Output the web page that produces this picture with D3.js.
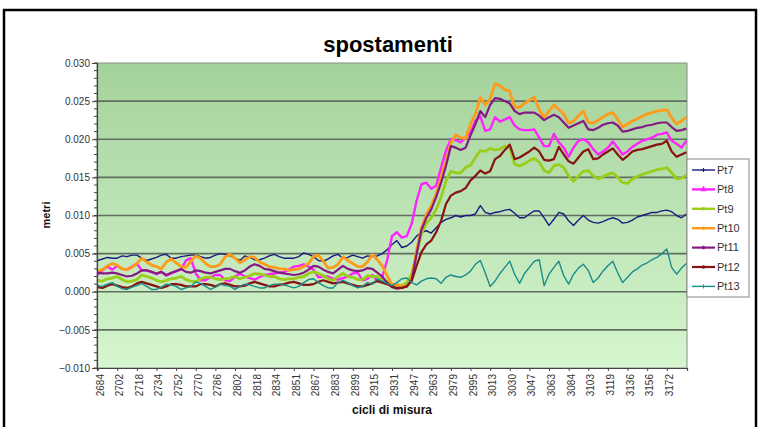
<!DOCTYPE html>
<html><head><meta charset="utf-8">
<script src="https://cdnjs.cloudflare.com/ajax/libs/d3/7.8.5/d3.min.js"></script>
<style>body{margin:0;background:#fff;} svg{display:block;font-family:"Liberation Sans",Arial,sans-serif;}</style>
</head><body>
<svg id="c" width="761" height="427"></svg>
<script>
// ---- data ----
const xLabels = ["2684","2702","2718","2734","2752","2770","2786","2802","2818","2834","2851","2867","2883","2899","2915","2931","2947","2963","2979","2995","3013","3030","3047","3063","3084","3103","3119","3136","3156","3172"];
const labelStep = 16;      // categories between labels
const nCategories = 481;   // measurement cycles on the axis
const sampleStep = 4;      // one value read every 4 cycles
const yTicks = [-0.010,-0.005,0.000,0.005,0.010,0.015,0.020,0.025,0.030];
const seriesNames = ["Pt7","Pt8","Pt9","Pt10","Pt11","Pt12","Pt13"];

const pt7 = [0.0041,0.0043,0.0045,0.0044,0.0044,0.0047,0.0046,0.0048,0.0048,0.0044,
0.0041,0.0043,0.0045,0.0048,0.0049,0.0044,0.0044,0.0046,0.0047,0.0048,
0.0048,0.0046,0.0044,0.0045,0.0048,0.0050,0.0049,0.0047,0.0044,0.0041,
0.0047,0.0045,0.0042,0.0042,0.0044,0.0047,0.0049,0.0046,0.0044,0.0044,
0.0044,0.0046,0.0051,0.0049,0.0046,0.0041,0.0040,0.0043,0.0047,0.0049,
0.0044,0.0045,0.0048,0.0046,0.0044,0.0047,0.0046,
0.0047,0.0050,0.0055,0.0062,0.0067,0.0058,0.0060,0.0065,0.0073,0.0078,0.0080,0.0077,0.0084,0.0091,0.0095,0.0097,0.0100,0.0098,0.0100,0.0100,0.0102,0.0113,
0.0104,0.0102,0.0104,0.0105,0.0107,0.0108,0.0103,0.0097,0.0097,0.0102,0.0106,0.0106,0.0097,0.0087,0.0095,0.0104,0.0102,0.0093,0.0087,0.0094,0.0100,
0.0094,0.0091,0.0090,0.0092,0.0095,0.0097,0.0095,0.0090,0.0091,0.0094,0.0098,0.0100,0.0102,0.0104,0.0104,0.0106,0.0107,0.0105,0.0100,0.0097,0.0102];

const pt8 = [0.0022,0.0028,0.0033,0.0029,0.0034,0.0030,0.0029,0.0033,0.0037,0.0028,
0.0028,0.0026,0.0023,0.0026,0.0021,0.0024,0.0027,0.0029,0.0041,0.0044,
0.0024,0.0015,0.0015,0.0019,0.0022,0.0022,0.0015,0.0014,0.0020,0.0024,
0.0020,0.0018,0.0016,0.0019,0.0022,0.0023,0.0024,0.0025,0.0026,0.0029,
0.0033,0.0034,0.0036,0.0033,0.0029,0.0019,0.0020,0.0020,0.0017,0.0016,
0.0018,0.0020,0.0024,0.0025,0.0015,0.0017,0.0022,
0.0014,0.0019,0.0041,0.0073,0.0078,0.0071,0.0073,0.0089,0.0119,0.0141,0.0143,0.0135,0.0139,0.0163,0.0185,0.0200,0.0199,0.0196,0.0202,0.0209,0.0224,0.0230,
0.0211,0.0213,0.0229,0.0223,0.0226,0.0229,0.0218,0.0213,0.0212,0.0212,0.0213,0.0202,0.0191,0.0191,0.0207,0.0196,0.0189,0.0177,0.0189,0.0198,0.0200,
0.0196,0.0187,0.0180,0.0184,0.0189,0.0197,0.0189,0.0180,0.0184,0.0190,0.0194,0.0198,0.0200,0.0202,0.0206,0.0207,0.0209,0.0198,0.0194,0.0189,0.0198];

const pt9 = [0.0015,0.0014,0.0017,0.0018,0.0020,0.0016,0.0013,0.0014,0.0016,0.0022,
0.0020,0.0018,0.0015,0.0013,0.0015,0.0017,0.0018,0.0020,0.0016,0.0014,
0.0013,0.0017,0.0019,0.0019,0.0017,0.0016,0.0017,0.0018,0.0020,0.0017,
0.0019,0.0021,0.0024,0.0023,0.0022,0.0020,0.0020,0.0017,0.0016,0.0017,
0.0017,0.0019,0.0020,0.0024,0.0026,0.0024,0.0021,0.0017,0.0015,0.0020,
0.0024,0.0020,0.0019,0.0016,0.0016,0.0021,0.0020,
0.0020,0.0015,0.0014,0.0010,0.0009,0.0008,0.0012,0.0023,0.0049,0.0076,0.0090,0.0097,0.0108,0.0124,0.0145,0.0158,0.0156,0.0156,0.0163,0.0166,0.0176,0.0185,
0.0184,0.0188,0.0186,0.0187,0.0191,0.0189,0.0167,0.0165,0.0168,0.0172,0.0175,0.0170,0.0159,0.0156,0.0165,0.0167,0.0163,0.0152,0.0145,0.0152,0.0158,
0.0159,0.0152,0.0148,0.0151,0.0154,0.0156,0.0150,0.0143,0.0142,0.0148,0.0151,0.0154,0.0156,0.0158,0.0160,0.0161,0.0163,0.0156,0.0148,0.0149,0.0153];

const pt10 = [0.0027,0.0029,0.0034,0.0037,0.0035,0.0030,0.0029,0.0032,0.0037,0.0044,
0.0039,0.0035,0.0033,0.0030,0.0039,0.0043,0.0038,0.0033,0.0032,0.0040,
0.0047,0.0044,0.0037,0.0033,0.0033,0.0036,0.0046,0.0049,0.0044,0.0038,
0.0042,0.0046,0.0045,0.0039,0.0036,0.0033,0.0032,0.0030,0.0030,0.0028,
0.0029,0.0030,0.0033,0.0037,0.0046,0.0048,0.0040,0.0031,0.0032,0.0036,
0.0046,0.0041,0.0037,0.0033,0.0033,0.0039,0.0049,
0.0042,0.0034,0.0021,0.0010,0.0009,0.0007,0.0007,0.0017,0.0054,0.0084,0.0101,0.0113,0.0128,0.0150,0.0171,0.0195,0.0206,0.0202,0.0201,0.0220,0.0233,0.0255,
0.0245,0.0253,0.0273,0.0270,0.0265,0.0263,0.0242,0.0242,0.0247,0.0251,0.0255,0.0239,0.0229,0.0237,0.0245,0.0239,0.0233,0.0221,0.0224,0.0231,0.0237,
0.0222,0.0221,0.0225,0.0229,0.0233,0.0235,0.0226,0.0216,0.0220,0.0224,0.0227,0.0230,0.0233,0.0235,0.0237,0.0238,0.0239,0.0228,0.0220,0.0224,0.0229];

const pt11 = [0.0025,0.0024,0.0024,0.0025,0.0024,0.0022,0.0020,0.0021,0.0024,0.0028,
0.0028,0.0026,0.0024,0.0026,0.0022,0.0025,0.0027,0.0030,0.0026,0.0025,
0.0028,0.0027,0.0025,0.0024,0.0026,0.0028,0.0030,0.0030,0.0027,0.0025,
0.0028,0.0033,0.0036,0.0034,0.0030,0.0029,0.0027,0.0025,0.0024,0.0023,
0.0022,0.0023,0.0025,0.0029,0.0034,0.0033,0.0029,0.0026,0.0024,0.0029,
0.0034,0.0030,0.0028,0.0027,0.0028,0.0031,0.0030,
0.0025,0.0020,0.0012,0.0006,0.0004,0.0005,0.0007,0.0015,0.0049,0.0081,0.0097,0.0108,0.0124,0.0143,0.0165,0.0191,0.0189,0.0186,0.0189,0.0205,0.0220,0.0237,
0.0229,0.0245,0.0254,0.0253,0.0250,0.0247,0.0237,0.0233,0.0235,0.0235,0.0235,0.0231,0.0225,0.0229,0.0232,0.0229,0.0222,0.0215,0.0218,0.0221,0.0224,
0.0213,0.0212,0.0215,0.0219,0.0221,0.0222,0.0218,0.0210,0.0211,0.0213,0.0215,0.0216,0.0218,0.0219,0.0221,0.0222,0.0222,0.0216,0.0211,0.0212,0.0214];

const pt12 = [0.0006,0.0005,0.0008,0.0010,0.0008,0.0006,0.0005,0.0007,0.0011,0.0013,
0.0011,0.0009,0.0007,0.0005,0.0007,0.0010,0.0010,0.0009,0.0007,0.0007,
0.0007,0.0010,0.0010,0.0009,0.0007,0.0010,0.0011,0.0009,0.0007,0.0007,
0.0008,0.0011,0.0013,0.0011,0.0009,0.0007,0.0007,0.0009,0.0010,0.0012,
0.0013,0.0011,0.0009,0.0009,0.0010,0.0013,0.0015,0.0013,0.0011,0.0012,
0.0013,0.0011,0.0009,0.0007,0.0007,0.0009,0.0011,
0.0014,0.0012,0.0010,0.0007,0.0005,0.0005,0.0007,0.0014,0.0034,0.0052,0.0062,0.0067,0.0078,0.0093,0.0115,0.0126,0.0130,0.0132,0.0136,0.0146,0.0152,0.0159,
0.0155,0.0158,0.0174,0.0178,0.0186,0.0193,0.0174,0.0176,0.0180,0.0184,0.0189,0.0184,0.0173,0.0172,0.0174,0.0190,0.0180,0.0171,0.0168,0.0176,0.0184,
0.0187,0.0174,0.0175,0.0180,0.0184,0.0188,0.0180,0.0173,0.0178,0.0184,0.0186,0.0187,0.0189,0.0191,0.0193,0.0194,0.0198,0.0184,0.0177,0.0180,0.0183];

const pt13 = [0.0008,0.0007,0.0010,0.0012,0.0007,0.0004,0.0003,0.0006,0.0008,0.0011,
0.0007,0.0003,0.0003,0.0006,0.0010,0.0009,0.0007,0.0003,0.0005,0.0007,
0.0013,0.0011,0.0007,0.0003,0.0006,0.0010,0.0008,0.0007,0.0003,0.0007,
0.0010,0.0009,0.0007,0.0005,0.0005,0.0008,0.0010,0.0010,0.0009,0.0007,
0.0005,0.0007,0.0012,0.0016,0.0017,0.0012,0.0008,0.0005,0.0005,0.0012,
0.0015,0.0012,0.0008,0.0005,0.0007,0.0012,0.0010,
0.0017,0.0014,0.0011,0.0008,0.0012,0.0017,0.0018,0.0012,0.0009,0.0014,0.0017,0.0018,0.0017,0.0011,0.0019,0.0022,0.0020,0.0019,0.0022,0.0027,0.0036,0.0041,
0.0025,0.0007,0.0014,0.0024,0.0032,0.0040,0.0023,0.0011,0.0024,0.0032,0.0040,0.0042,0.0008,0.0023,0.0032,0.0040,0.0021,0.0010,0.0023,0.0031,0.0036,
0.0028,0.0012,0.0018,0.0027,0.0034,0.0040,0.0025,0.0012,0.0019,0.0026,0.0030,0.0035,0.0038,0.0042,0.0045,0.0050,0.0056,0.0032,0.0023,0.0031,0.0037];

const seriesValues = [pt7, pt8, pt9, pt10, pt11, pt12, pt13];

// ---- styles ----
const colors = ["#1a1a80","#ff22ff","#9acd1a","#ff9a1a","#851a85","#861414","#1a8c8c"];
const widths = [1.4, 2.4, 2.8, 2.8, 2.2, 2.2, 1.4];

const svg = d3.select("#c");
const L = 97, R = 687, T = 63, B = 368;

const x = d3.scaleLinear().domain([-0.5, nCategories - 0.5]).range([L, R]);
const y = d3.scaleLinear().domain([-0.010, 0.030]).range([B, T]);

// outer frame
svg.append("rect").attr("x", 4).attr("y", 10).attr("width", 752).attr("height", 440)
  .attr("fill", "#fff").attr("stroke", "#000").attr("stroke-width", 2.5);

// gradient plot background
const defs = svg.append("defs");
const g = defs.append("linearGradient").attr("id", "bg").attr("x1", 0).attr("y1", 0).attr("x2", 0).attr("y2", 1);
g.append("stop").attr("offset", "0%").attr("stop-color", "#a4d29b");
g.append("stop").attr("offset", "100%").attr("stop-color", "#d6f6cf");
svg.append("rect").attr("x", L).attr("y", T).attr("width", R - L).attr("height", B - T)
  .attr("fill", "url(#bg)").attr("stroke", "#8a8a8a").attr("stroke-width", 1);

// gridlines
svg.append("g").selectAll("line").data(yTicks.filter(v => v > -0.010 && v < 0.030)).join("line")
  .attr("x1", L).attr("x2", R).attr("y1", d => y(d)).attr("y2", d => y(d))
  .attr("stroke", "#5f6e5f").attr("stroke-width", 1.6);

// series
const line = d3.line().x((d, i) => x(i * sampleStep)).y(d => y(d));
const plot = svg.append("g");
seriesValues.forEach((vals, k) => {
  plot.append("path").datum(vals).attr("d", line)
    .attr("fill", "none").attr("stroke", colors[k]).attr("stroke-width", widths[k])
    .attr("stroke-linejoin", "round");
});

// y axis
const yAxis = d3.axisLeft(y).tickValues(yTicks).tickFormat(d3.format(".3f")).tickSize(5).tickPadding(2);
const ya = svg.append("g").attr("transform", `translate(${L},0)`).call(yAxis);
ya.select(".domain").attr("stroke", "#444").attr("stroke-width", 1.2);
ya.selectAll(".tick line").attr("stroke", "#444");
ya.selectAll("text").attr("font-size", 10).attr("fill", "#333").attr("font-family", "Liberation Sans, Arial, sans-serif");
// minor ticks
svg.append("g").selectAll("line").data(d3.range(-10, 31).map(v => v / 1000)).join("line")
  .attr("x1", L - 3).attr("x2", L).attr("y1", d => y(d)).attr("y2", d => y(d))
  .attr("stroke", "#444").attr("stroke-width", 1);

// x axis
const xAxis = d3.axisBottom(x).tickValues(xLabels.map((_, i) => i * labelStep)).tickFormat((d, i) => xLabels[i]).tickSize(3).tickPadding(4);
const xa = svg.append("g").attr("transform", `translate(0,${B})`).call(xAxis);
xa.select(".domain").attr("stroke", "#444").attr("stroke-width", 1.2);
xa.selectAll(".tick line").attr("stroke", "#444");
xa.selectAll("text").attr("font-size", 10).attr("fill", "#333")
  .attr("font-family", "Liberation Sans, Arial, sans-serif")
  .attr("text-anchor", "end").attr("transform", "rotate(-90)")
  .attr("x", -6).attr("y", 2).attr("dy", "0.35em");

// titles
svg.append("text").attr("x", 388).attr("y", 52).attr("text-anchor", "middle")
  .attr("font-size", 22).attr("font-weight", "bold").attr("fill", "#000").text("spostamenti");
svg.append("text").attr("transform", "translate(50,215) rotate(-90)").attr("text-anchor", "middle")
  .attr("font-size", 11).attr("font-weight", "bold").attr("fill", "#111").text("metri");
svg.append("text").attr("x", 392).attr("y", 414).attr("text-anchor", "middle")
  .attr("font-size", 12).attr("font-weight", "bold").attr("fill", "#111").text("cicli di misura");

// legend
const lg = svg.append("g");
lg.append("rect").attr("x", 687).attr("y", 159).attr("width", 62).attr("height", 138)
  .attr("fill", "#fff").attr("stroke", "#888").attr("stroke-width", 1);
seriesNames.forEach((name, k) => {
  const yy = 170 + k * 19.4;
  lg.append("line").attr("x1", 692).attr("x2", 715).attr("y1", yy).attr("y2", yy)
    .attr("stroke", colors[k]).attr("stroke-width", Math.min(widths[k], 2.4));
  const mx = 703.5;
  if (k === 1) {
    lg.append("path").attr("d", d3.symbol(d3.symbolTriangle, 18)()).attr("transform", `translate(${mx},${yy})`).attr("fill", colors[k]);
  } else if (k === 6 || k === 0) {
    lg.append("path").attr("d", `M${mx - 2},${yy}H${mx + 2}M${mx},${yy - 2}V${yy + 2}`).attr("stroke", colors[k]).attr("stroke-width", 1);
  } else {
    lg.append("circle").attr("cx", mx).attr("cy", yy).attr("r", 1.8).attr("fill", colors[k]);
  }
  lg.append("text").attr("x", 717).attr("y", yy).attr("dy", "0.35em")
    .attr("font-size", 11).attr("fill", "#333").text(name);
});
</script>
</body></html>
